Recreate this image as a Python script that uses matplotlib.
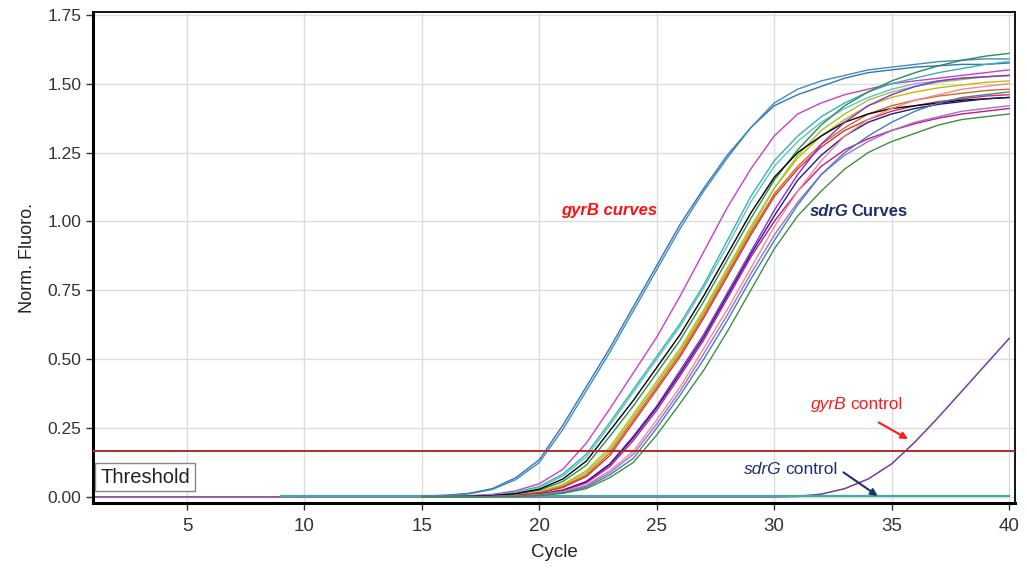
import matplotlib

matplotlib.use("Agg")

import matplotlib.pyplot as plt

plt.rcParams["font.family"] = ["Liberation Sans", "DejaVu Sans"]

# amplification curves, values read at cycles 15..40
RISE_CYCLES = list(range(15, 41))

blue_a = [0.003, 0.006, 0.013, 0.03, 0.07, 0.135, 0.26, 0.40, 0.54, 0.69, 0.84, 0.99, 1.12,
          1.24, 1.34, 1.42, 1.46, 1.49, 1.52, 1.54, 1.55, 1.56, 1.565, 1.57, 1.57, 1.575]
blue_b = [0.002, 0.005, 0.011, 0.027, 0.063, 0.125, 0.245, 0.385, 0.525, 0.675, 0.825, 0.975, 1.11,
          1.23, 1.34, 1.43, 1.48, 1.51, 1.53, 1.55, 1.56, 1.57, 1.58, 1.585, 1.59, 1.59]
magenta_a = [0.001, 0.002, 0.004, 0.009, 0.022, 0.048, 0.10, 0.195, 0.32, 0.45, 0.58, 0.73, 0.89,
             1.05, 1.19, 1.31, 1.39, 1.43, 1.46, 1.48, 1.50, 1.51, 1.52, 1.53, 1.54, 1.55]
teal_a = [0.001, 0.001, 0.003, 0.007, 0.017, 0.038, 0.083, 0.155, 0.27, 0.39, 0.51, 0.63, 0.77,
          0.93, 1.09, 1.22, 1.31, 1.38, 1.43, 1.47, 1.50, 1.52, 1.54, 1.555, 1.57, 1.58]
cyan_a = [0.001, 0.001, 0.002, 0.006, 0.015, 0.034, 0.076, 0.145, 0.26, 0.38, 0.50, 0.62, 0.76,
          0.91, 1.07, 1.20, 1.29, 1.36, 1.41, 1.45, 1.48, 1.50, 1.51, 1.52, 1.525, 1.53]
black_a = [0.0, 0.001, 0.002, 0.005, 0.012, 0.028, 0.065, 0.13, 0.24, 0.35, 0.47, 0.59, 0.73,
           0.88, 1.03, 1.16, 1.25, 1.31, 1.36, 1.39, 1.41, 1.42, 1.43, 1.44, 1.445, 1.45]
green_top = [0.0, 0.001, 0.002, 0.004, 0.01, 0.024, 0.056, 0.115, 0.22, 0.33, 0.45, 0.57, 0.71,
             0.86, 1.01, 1.15, 1.26, 1.35, 1.42, 1.47, 1.51, 1.54, 1.565, 1.585, 1.60, 1.61]
yellow_a = [0.0, 0.001, 0.002, 0.003, 0.008, 0.019, 0.045, 0.095, 0.18, 0.30, 0.42, 0.54, 0.68,
            0.83, 0.98, 1.12, 1.23, 1.31, 1.37, 1.42, 1.45, 1.47, 1.485, 1.495, 1.505, 1.51]
lime_a = [0.0, 0.0, 0.001, 0.003, 0.007, 0.017, 0.041, 0.088, 0.17, 0.29, 0.41, 0.53, 0.67,
          0.82, 0.97, 1.12, 1.24, 1.33, 1.39, 1.44, 1.47, 1.49, 1.505, 1.515, 1.525, 1.53]
orange_a = [0.0, 0.0, 0.001, 0.003, 0.006, 0.015, 0.037, 0.08, 0.16, 0.28, 0.40, 0.52, 0.66,
            0.81, 0.96, 1.10, 1.20, 1.28, 1.34, 1.39, 1.42, 1.44, 1.455, 1.465, 1.475, 1.48]
red_a = [0.0, 0.0, 0.001, 0.002, 0.006, 0.014, 0.034, 0.074, 0.15, 0.27, 0.39, 0.51, 0.65,
         0.80, 0.95, 1.09, 1.19, 1.27, 1.33, 1.37, 1.40, 1.42, 1.435, 1.445, 1.455, 1.46]
purple_a = [0.0, 0.0, 0.001, 0.002, 0.004, 0.01, 0.025, 0.056, 0.12, 0.22, 0.33, 0.46, 0.59,
            0.74, 0.89, 1.04, 1.17, 1.28, 1.36, 1.42, 1.46, 1.49, 1.51, 1.52, 1.525, 1.53]
navy_a = [0.0, 0.0, 0.001, 0.002, 0.004, 0.01, 0.024, 0.055, 0.118, 0.215, 0.325, 0.45, 0.58,
          0.73, 0.88, 1.02, 1.15, 1.24, 1.31, 1.36, 1.39, 1.41, 1.425, 1.435, 1.445, 1.45]
magenta_b = [0.0, 0.0, 0.001, 0.002, 0.004, 0.009, 0.022, 0.051, 0.11, 0.205, 0.315, 0.44, 0.57,
             0.72, 0.87, 1.00, 1.11, 1.20, 1.26, 1.30, 1.33, 1.355, 1.375, 1.39, 1.40, 1.41]
pink_a = [0.0, 0.0, 0.0, 0.001, 0.003, 0.008, 0.019, 0.043, 0.095, 0.165, 0.28, 0.40, 0.54,
          0.68, 0.83, 0.98, 1.11, 1.22, 1.31, 1.37, 1.41, 1.44, 1.46, 1.48, 1.49, 1.50]
violet_a = [0.0, 0.0, 0.0, 0.001, 0.003, 0.007, 0.017, 0.04, 0.088, 0.155, 0.265, 0.385, 0.52,
            0.66, 0.81, 0.95, 1.07, 1.17, 1.24, 1.29, 1.33, 1.36, 1.38, 1.40, 1.41, 1.42]
steel_a = [0.0, 0.0, 0.0, 0.001, 0.002, 0.006, 0.015, 0.035, 0.08, 0.14, 0.25, 0.37, 0.50,
           0.64, 0.79, 0.93, 1.06, 1.17, 1.25, 1.31, 1.36, 1.40, 1.43, 1.45, 1.46, 1.47]
green_low = [0.0, 0.0, 0.0, 0.001, 0.002, 0.005, 0.013, 0.03, 0.07, 0.125, 0.225, 0.34, 0.46,
             0.60, 0.75, 0.90, 1.02, 1.11, 1.19, 1.25, 1.29, 1.32, 1.35, 1.37, 1.38, 1.39]

sample_curves = [
    (blue_a, "#2f76b8"),
    (blue_b, "#3f8cc0"),
    (magenta_a, "#c83fcc"),
    (teal_a, "#3cb3a6"),
    (cyan_a, "#5cc2cc"),
    (green_top, "#2e8b57"),
    (yellow_a, "#c9b800"),
    (lime_a, "#9bc53d"),
    (orange_a, "#d2691e"),
    (red_a, "#e03030"),
    (black_a, "#000000"),
    (purple_a, "#8a2be2"),
    (navy_a, "#1c1c8c"),
    (magenta_b, "#c71585"),
    (pink_a, "#f08a9a"),
    (violet_a, "#a070d0"),
    (steel_a, "#3f7fbf"),
    (green_low, "#3f8f3f"),
]

# controls
control_cycles = list(range(1, 41))
gyrb_control = [0.0, 0.0, 0.0, 0.0, 0.0, 0.0, 0.0, 0.0, 0.0, 0.0,
                0.0, 0.0, 0.0, 0.0, 0.0, 0.0, 0.0, 0.0, 0.0, 0.0,
                0.0, 0.0, 0.0, 0.0, 0.0, 0.0, 0.0, 0.0, 0.0, 0.0,
                0.002, 0.01, 0.03, 0.065, 0.12, 0.20, 0.29, 0.385, 0.48, 0.575]
sdrg_control_cycles = list(range(9, 41))
sdrg_control = [0.004, 0.004, 0.004, 0.004, 0.004, 0.004, 0.004, 0.004,
                0.004, 0.004, 0.004, 0.004, 0.004, 0.004, 0.004, 0.004,
                0.004, 0.004, 0.004, 0.004, 0.004, 0.004, 0.004, 0.004,
                0.004, 0.004, 0.004, 0.004, 0.004, 0.004, 0.004, 0.004]

threshold = 0.165
x_ticks = [5, 10, 15, 20, 25, 30, 35, 40]
y_ticks = [0.0, 0.25, 0.5, 0.75, 1.0, 1.25, 1.5, 1.75]

fig = plt.figure(figsize=(10.27, 5.73), dpi=100)
ax = fig.add_axes([0.0906, 0.1222, 0.8977, 0.8568])

ax.plot(control_cycles, gyrb_control, color="#7a3a9a", lw=1.1, zorder=2)
ax.plot(sdrg_control_cycles, sdrg_control, color="#3cb0a8", lw=1.6, zorder=2)
for values, color in sample_curves:
    ax.plot(RISE_CYCLES, values, color=color, lw=1.0, zorder=3)

ax.axhline(threshold, color="#b02a2a", lw=1.4, zorder=4)
ax.text(1.3, 0.072, "Threshold", fontsize=14.5, color="#222222", va="center", ha="left",
        bbox={"facecolor": "white", "edgecolor": "#888888", "pad": 3.5, "lw": 1.0}, zorder=5)

ax.text(22.95, 1.04, "gyrB curves", color="#ff1010", fontsize=12, fontweight="bold",
        fontstyle="italic", ha="center", va="center")
ax.text(33.15, 1.035, "sdrG", color="#1f2f6b", fontsize=12, fontweight="bold",
        fontstyle="italic", ha="right", va="center")
ax.text(33.3, 1.035, "Curves", color="#1f2f6b", fontsize=12, fontweight="bold",
        ha="left", va="center")

ax.text(33.1, 0.335, "gyrB", color="#ff1a1a", fontsize=12.5, fontstyle="italic",
        ha="right", va="center")
ax.text(33.25, 0.335, "control", color="#ff1a1a", fontsize=12.5, ha="left", va="center")
ax.annotate("", xy=(35.8, 0.205), xytext=(34.35, 0.275),
            arrowprops={"arrowstyle": "-|>", "color": "#ff1a1a", "lw": 1.5, "mutation_scale": 10})

ax.text(30.3, 0.10, "sdrG", color="#1f2f6b", fontsize=12.5, fontstyle="italic",
        ha="right", va="center")
ax.text(30.45, 0.10, "control", color="#1f2f6b", fontsize=12.5, ha="left", va="center")
ax.annotate("", xy=(34.5, -0.002), xytext=(32.85, 0.095),
            arrowprops={"arrowstyle": "-|>", "color": "#1f2f6b", "lw": 1.5, "mutation_scale": 10})

ax.set_xlim(1.0, 40.25)
ax.set_ylim(-0.022, 1.76)
ax.set_xticks(x_ticks)
ax.set_yticks(y_ticks)
ax.set_yticklabels([f"{v:.2f}" for v in y_ticks])
ax.grid(True, color="#dcdcdc", lw=1.0, zorder=0)
ax.set_axisbelow(True)
ax.tick_params(axis="both", labelsize=12.5, colors="#333333", length=5, width=1.0)
ax.tick_params(axis="x", labelsize=13.5, pad=6)
for side in ["top", "right"]:
    ax.spines[side].set_linewidth(1.3)
for side in ["left", "bottom"]:
    ax.spines[side].set_linewidth(2.2)

ax.set_xlabel("Cycle", fontsize=13.5, color="#222222", labelpad=6)
ax.set_ylabel("Norm. Fluoro.", fontsize=13, color="#222222", labelpad=8)

fig.savefig("out.png", dpi=100)
